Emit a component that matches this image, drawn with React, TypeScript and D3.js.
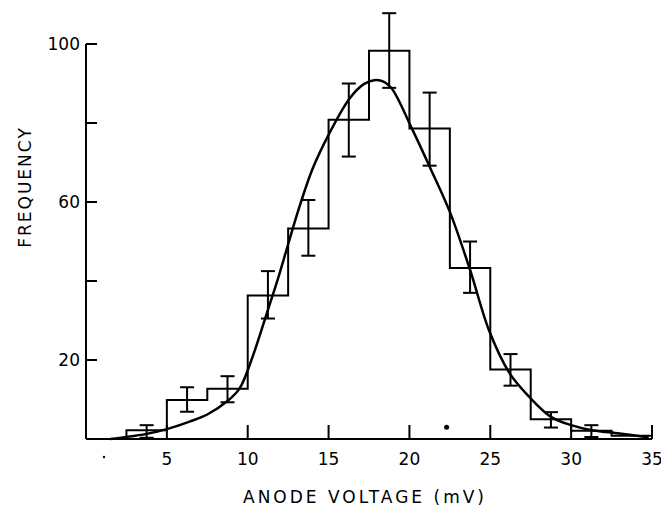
import React, { useRef, useEffect } from "react";
import * as d3 from "d3";

// histogram bins (left edge, mV), bin width 2.5
const binStarts = [2.5, 5, 7.5, 10, 12.5, 15, 17.5, 20, 22.5, 25, 27.5, 30, 32.5];
const binCounts = [2.2, 9.9, 12.7, 36.3, 53.3, 80.8, 98.3, 78.6, 43.3, 17.6, 5.0, 2.1, 0.8];
const errLow = [0.3, 6.9, 9.3, 30.5, 46.4, 71.5, 88.9, 69.2, 37.0, 13.5, 2.9, 0.5, null];
const errHigh = [3.5, 13.1, 15.9, 42.5, 60.5, 90.0, 107.8, 87.7, 50.0, 21.5, 6.8, 3.5, null];

// fitted curve
const curveX = [1.5, 2.5, 3.75, 5, 6.4, 7.5, 8.75, 9.5, 10.3, 11.25, 11.9, 12.5, 13.2, 14, 15, 16.3, 17.2, 17.9, 18.4, 18.9, 20.2, 21.3, 22.5, 23.75, 24.95, 26.2, 27.4, 28.75, 30, 31.2, 33, 34.8];
const curveY = [0, 0.5, 1.3, 2.5, 4.4, 6.2, 9.6, 12.8, 20.8, 32.7, 41, 49.3, 58.8, 68.3, 77, 86.2, 89.9, 90.9, 90.5, 88.8, 78.2, 68.5, 57.5, 42.8, 27.2, 16.6, 10.7, 5.6, 3.5, 2.3, 1.4, 0.4];

const xTicks = [5, 10, 15, 20, 25, 30, 35];
const yTicks = [20, 40, 60, 80, 100];
const yTickLabels = ["20", "", "60", "", "100"];

// stray dot in the plot
const dotX = [22.3];
const dotY = [3];

const BIN_W = 2.5;
const FONT = "'DejaVu Sans', sans-serif";

const App = () => {
    const ref = useRef(null);

    useEffect(() => {
        const width = 661;
        const height = 507;
        if (!ref.current) return;
        ref.current.innerHTML = "";

        const x = d3.scaleLinear().domain([0, 35]).range([86, 652]);
        const y = d3.scaleLinear().domain([0, 100]).range([439, 44]);

        const svg = d3.select(ref.current)
            .append("svg")
            .attr("width", width)
            .attr("height", height)
            .style("display", "block")
            .style("background", "#fff");

        // axes
        svg.append("line")
            .attr("x1", x(0)).attr("x2", x(0))
            .attr("y1", y(0)).attr("y2", y(100))
            .attr("stroke", "#000").attr("stroke-width", 2);
        svg.append("line")
            .attr("x1", x(0)).attr("x2", x(35))
            .attr("y1", y(0)).attr("y2", y(0))
            .attr("stroke", "#000").attr("stroke-width", 2);

        yTicks.forEach((t, i) => {
            svg.append("line")
                .attr("x1", x(0)).attr("x2", x(0) + 11)
                .attr("y1", y(t)).attr("y2", y(t))
                .attr("stroke", "#000").attr("stroke-width", 2);
            if (yTickLabels[i]) {
                svg.append("text")
                    .attr("x", x(0) - 6)
                    .attr("y", y(t) + 6)
                    .attr("text-anchor", "end")
                    .style("font-family", FONT)
                    .style("font-size", "17px")
                    .text(yTickLabels[i]);
            }
        });

        xTicks.forEach(t => {
            svg.append("line")
                .attr("x1", x(t)).attr("x2", x(t))
                .attr("y1", y(0)).attr("y2", y(0) - 14)
                .attr("stroke", "#000").attr("stroke-width", 2);
            svg.append("text")
                .attr("x", x(t))
                .attr("y", 465)
                .attr("text-anchor", "middle")
                .style("font-family", FONT)
                .style("font-size", "17px")
                .text(t);
        });

        // little dot left of "5"
        svg.append("circle").attr("cx", 104).attr("cy", 457).attr("r", 1.2).attr("fill", "#000");

        // axis titles
        svg.append("text")
            .attr("x", 365)
            .attr("y", 503)
            .attr("text-anchor", "middle")
            .style("font-family", FONT)
            .style("font-size", "17px")
            .style("letter-spacing", "3px")
            .text("ANODE VOLTAGE (mV)");

        svg.append("text")
            .attr("transform", "translate(31,187) rotate(-90)")
            .attr("text-anchor", "middle")
            .style("font-family", FONT)
            .style("font-size", "17px")
            .style("letter-spacing", "2px")
            .text("FREQUENCY");

        // histogram outline
        const pts = [[binStarts[0], 0]];
        binStarts.forEach((b, i) => {
            pts.push([b, binCounts[i]]);
            pts.push([b + BIN_W, binCounts[i]]);
        });
        pts.push([binStarts[binStarts.length - 1] + BIN_W, 0]);
        svg.append("path")
            .attr("d", d3.line().x(d => x(d[0])).y(d => y(d[1]))(pts))
            .attr("fill", "none")
            .attr("stroke", "#000")
            .attr("stroke-width", 2);

        // error bars
        binStarts.forEach((b, i) => {
            if (errLow[i] == null) return;
            const cx = x(b + BIN_W / 2);
            const g = svg.append("g").attr("stroke", "#000").attr("stroke-width", 2);
            g.append("line").attr("x1", cx).attr("x2", cx).attr("y1", y(errLow[i])).attr("y2", y(errHigh[i]));
            g.append("line").attr("x1", cx - 7).attr("x2", cx + 7).attr("y1", y(errLow[i])).attr("y2", y(errLow[i]));
            g.append("line").attr("x1", cx - 7).attr("x2", cx + 7).attr("y1", y(errHigh[i])).attr("y2", y(errHigh[i]));
        });

        // fitted curve
        const curvePts = curveX.map((v, i) => [v, curveY[i]]);
        svg.append("path")
            .attr("d", d3.line().curve(d3.curveCatmullRom.alpha(0.5)).x(d => x(d[0])).y(d => y(d[1]))(curvePts))
            .attr("fill", "none")
            .attr("stroke", "#000")
            .attr("stroke-width", 2.5);

        dotX.forEach((v, i) => {
            svg.append("circle").attr("cx", x(v)).attr("cy", y(dotY[i])).attr("r", 2.5).attr("fill", "#000");
        });
    }, []);

    return (
        <div ref={ref} style={{ position: "absolute", left: 0, top: 0 }}></div>
    );
};

export default App;
